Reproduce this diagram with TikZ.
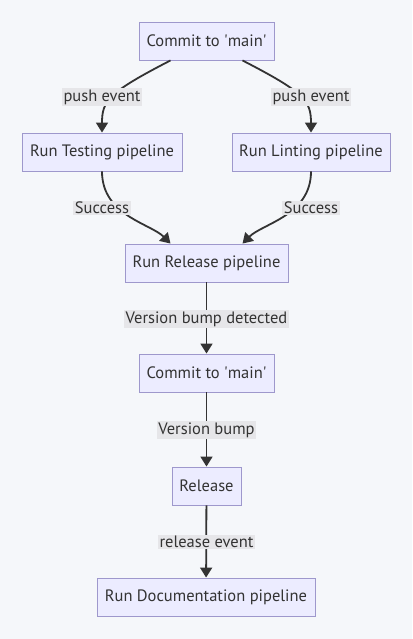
\documentclass[tikz,border=0pt]{standalone}
\usepackage{fontspec}
\setmainfont{PT Sans}
\usetikzlibrary{arrows.meta}
\definecolor{bgc}{HTML}{F5F7FA}
\definecolor{nodefill}{HTML}{ECECFF}
\definecolor{nodedraw}{HTML}{9E98CC}
\definecolor{edgec}{HTML}{333333}
\definecolor{labfill}{HTML}{E6E6E9}
\definecolor{txt}{HTML}{333333}
\tikzset{
  box/.style={draw=nodedraw, fill=nodefill, line width=0.9pt, minimum height=38pt, inner sep=0pt, text=txt, font=\fontsize{16.5}{18}\selectfont},
  edge/.style={draw=edgec, line width=1.8pt, -{Triangle[length=10pt,width=12pt]}},
  lab/.style={fill=labfill, inner sep=1.5pt, text=txt, font=\fontsize{16.5}{18}\selectfont},
}
\begin{document}
\begin{tikzpicture}[x=1pt,y=-1pt]
\fill[bgc] (0,0) rectangle (412,639);
\useasboundingbox (0,0) rectangle (412,639);
\node[box, minimum width=135pt] (c1) at (206.5,41) {Commit to \textquotesingle main\textquotesingle};
\node[box, minimum width=160pt] (t) at (102,152) {Run Testing pipeline};
\node[box, minimum width=158pt] (l) at (311,152) {Run Linting pipeline};
\node[box, minimum width=163pt] (r) at (206.5,263) {Run Release pipeline};
\node[box, minimum width=135pt] (c2) at (206.5,373) {Commit to \textquotesingle main\textquotesingle};
\node[box, minimum width=69pt] (rel) at (206.5,486) {Release};
\node[box, minimum width=218pt] (d) at (206,597) {Run Documentation pipeline};

\draw[edge] ([xshift=-36pt]c1.south) .. controls +(-62,32) and +(0,-32) .. (t.north);
\draw[edge] ([xshift=36pt]c1.south) .. controls +(62,32) and +(0,-32) .. (l.north);
\draw[edge] (t.south) .. controls +(0,44) and +(-20,-20) .. ([xshift=-36pt]r.north);
\draw[edge] (l.south) .. controls +(0,44) and +(20,-20) .. ([xshift=36pt]r.north);
\draw[edge] (r) -- (c2);
\draw[edge] (c2) -- (rel);
\draw[edge] (rel) -- (d);

\node[lab] (l1) at (102,97) {push event};
\node[lab] (l2) at (311,97) {push event};
\node[lab] (l3) at (102,208) {Success};
\node[lab] (l4) at (311,208) {Success};
\node[lab] (l5) at (206.5,319) {Version bump detected};
\node[lab] (l6) at (206.5,430) {Version bump};
\node[lab] (l7) at (206.5,542) {release event};
\end{tikzpicture}
\end{document}
